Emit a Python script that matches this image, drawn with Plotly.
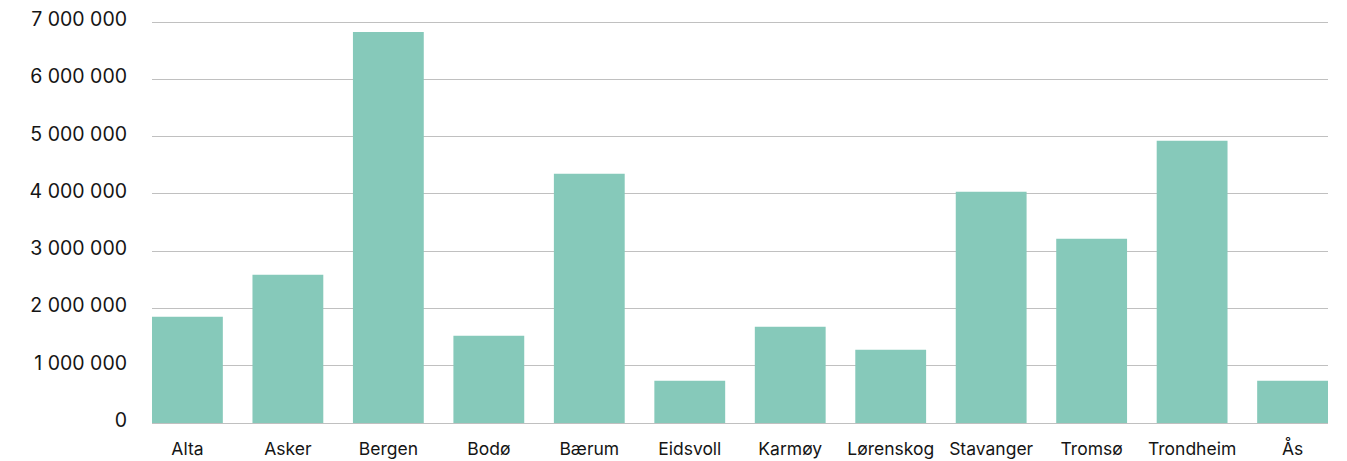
import plotly.graph_objects as go

categories = ["Alta", "Asker", "Bergen", "Bodø", "Bærum", "Eidsvoll", "Karmøy",
              "Lørenskog", "Stavanger", "Tromsø", "Trondheim", "Ås"]
values = [1855000, 2590000, 6830000, 1525000, 4352000, 738000, 1681000,
          1279000, 4037000, 3217000, 4928000, 738000]
y_ticks = [0, 1000000, 2000000, 3000000, 4000000, 5000000, 6000000, 7000000]

fig = go.Figure(go.Bar(x=categories, y=values, marker=dict(color="#86C9BA", line=dict(width=0))))

fig.update_layout(
    width=1347, height=461,
    margin=dict(l=144, r=27, t=13, b=46),
    paper_bgcolor="white", plot_bgcolor="white",
    bargap=0.295,
    separators=", ",
    font=dict(family="Inter", size=17, color="#151515"),
    showlegend=False,
)
fig.update_xaxes(range=[-0.3525, 11.3525], showgrid=False, showline=False, automargin=False,
                 ticks="", ticklabelstandoff=13, tickfont=dict(size=17.5))
fig.update_yaxes(range=[0, 7020000], tickvals=y_ticks, tickformat=",d", automargin=False,
                 showgrid=True, gridcolor="#c0c0c0", gridwidth=1,
                 zeroline=True, zerolinecolor="#c0c0c0", zerolinewidth=1,
                 showline=False, ticks="", ticklabelstandoff=24, ticklabelshift=-3,
                 ticklabeloverflow="allow", tickfont=dict(size=19.5))

fig.write_html("out.html")
